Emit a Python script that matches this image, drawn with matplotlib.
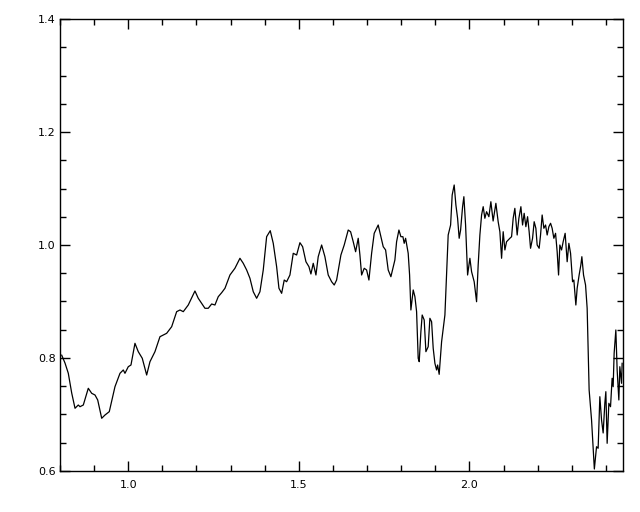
import matplotlib
matplotlib.use("Agg")
import matplotlib.pyplot as plt
from matplotlib.ticker import MultipleLocator, FormatStrFormatter

wavelength = [
    0.805, 0.8147, 0.8243, 0.8343, 0.8440, 0.8536, 0.8586, 0.8683, 0.8829, 0.8929,
    0.9026, 0.9105, 0.9222, 0.9319, 0.9444, 0.9611, 0.9758, 0.9855, 0.9904, 1.0001,
    1.0080, 1.0197, 1.0294, 1.0411, 1.0540, 1.0637, 1.0783, 1.0930, 1.1126, 1.1273,
    1.1419, 1.1516, 1.1613, 1.1759, 1.1955, 1.2052, 1.2248, 1.2345, 1.2445, 1.2541,
    1.2638, 1.2738, 1.2835, 1.2981, 1.3127, 1.3274, 1.3371, 1.3470, 1.3567, 1.3664,
    1.3763, 1.3860, 1.3957, 1.4056, 1.4162, 1.4250, 1.4349, 1.4417, 1.4496, 1.4572,
    1.4642, 1.4739, 1.4836, 1.4935, 1.5032, 1.5111, 1.5208, 1.5296, 1.5354, 1.5422,
    1.5501, 1.5568, 1.5668, 1.5764, 1.5861, 1.5961, 1.6037, 1.6107, 1.6233, 1.6330,
    1.6447, 1.6517, 1.6594, 1.6664, 1.6740, 1.6790, 1.6840, 1.6916,
    1.6986, 1.7054, 1.7133, 1.7209, 1.7326, 1.7405, 1.7473, 1.7543, 1.7619, 1.7698,
    1.7766,
    1.7815, 1.7865, 1.7933, 1.7991, 1.8050, 1.8088, 1.8129, 1.8205, 1.8246, 1.8284,
    1.8352, 1.8402, 1.8451, 1.8498, 1.8528, 1.8577, 1.8615, 1.8674, 1.8724, 1.8791,
    1.8841, 1.8891, 1.8938, 1.8988, 1.9037, 1.9067, 1.9113, 1.9184, 1.9281, 1.9377,
    1.9448, 1.9494, 1.9553, 1.9603, 1.9653, 1.9699, 1.9741, 1.9799, 1.9837, 1.9887,
    1.9946, 2.0013, 2.0063, 2.0139, 2.0209, 2.0256, 2.0306, 2.0356, 2.0403, 2.0452,
    2.0502, 2.0570, 2.0628, 2.0694,
    2.0775, 2.0842, 2.0892, 2.0942, 2.0989, 2.1039, 2.1088, 2.1135, 2.1185, 2.1235,
    2.1282, 2.1331, 2.1399, 2.1449, 2.1508, 2.1557, 2.1604, 2.1654, 2.1704, 2.1750,
    2.1791, 2.1850, 2.1897, 2.1947, 2.1985, 2.2043, 2.2084, 2.2131, 2.2181, 2.2231,
    2.2278, 2.2328, 2.2378, 2.2424, 2.2474, 2.2524, 2.2571, 2.2612, 2.2650, 2.2700,
    2.2747, 2.2805, 2.2864, 2.2914, 2.2964, 2.3022, 2.3060, 2.3119, 2.3157, 2.3215,
    2.3265, 2.3295, 2.3344, 2.3403, 2.3450, 2.3508, 2.3579, 2.3661,
    2.3725, 2.3772, 2.3822, 2.3872, 2.3919, 2.3969, 2.3998, 2.4036, 2.4086, 2.4135,
    2.4182, 2.4212, 2.4241, 2.4291, 2.4329, 2.4379, 2.4408, 2.4458, 2.4475,
]

flux = [
    0.805, 0.791, 0.773, 0.738, 0.711, 0.7168, 0.7138, 0.7168, 0.7464, 0.7375,
    0.7345, 0.7257, 0.6933, 0.6991, 0.705, 0.7492, 0.7729, 0.7788, 0.7729, 0.7846,
    0.7876, 0.826, 0.8112, 0.7995, 0.7699, 0.7935, 0.8112, 0.8377, 0.8437, 0.8554,
    0.882, 0.885, 0.882, 0.8938, 0.9186, 0.9057, 0.888, 0.888, 0.8956, 0.8938,
    0.9085, 0.9156, 0.9234, 0.9469, 0.9588, 0.9765, 0.9676, 0.9558, 0.9411, 0.9173,
    0.9057, 0.9173, 0.9558, 1.0147, 1.0253, 1.003, 0.9616, 0.9234, 0.9145, 0.938,
    0.935, 0.9469, 0.9853, 0.9823, 1.0041, 0.997, 0.9704, 0.9616, 0.9487, 0.9676,
    0.9469, 0.9793, 1.0, 0.9793, 0.9469, 0.935, 0.9292, 0.938, 0.9823, 1.0,
    1.0265, 1.0235, 1.0058, 0.9881, 1.0119, 0.9823, 0.9469, 0.9588,
    0.9558, 0.938, 0.9853, 1.0207, 1.0354, 1.0147, 0.997, 0.9912, 0.9558, 0.9439,
    0.9616,
    0.9735, 1.0058, 1.0265, 1.0147, 1.0147, 1.003, 1.0119, 0.9853, 0.9469, 0.885,
    0.9204, 0.9085, 0.882, 0.7995, 0.7935, 0.8465, 0.8761, 0.8673, 0.8112, 0.82,
    0.8703, 0.8642, 0.8172, 0.7906, 0.7788, 0.7876, 0.7711, 0.8288, 0.8761, 1.0177,
    1.0354, 1.0885, 1.1062, 1.0708, 1.0473, 1.0119, 1.0265, 1.0678, 1.0855, 1.0354,
    0.9469, 0.9765, 0.9527, 0.935, 0.8996, 0.9646, 1.0177, 1.0531, 1.0678, 1.0473,
    1.0589, 1.0501, 1.0766, 1.0425,
    1.0738, 1.0412, 1.0235, 0.9765, 1.0235, 0.9912, 1.0058, 1.0088, 1.0119, 1.0147,
    1.0473, 1.0649, 1.0177, 1.0473, 1.0678, 1.0354, 1.0561, 1.0324, 1.0501, 1.0235,
    0.9942, 1.0119, 1.0412, 1.0296, 1.0, 0.9942, 1.0177, 1.0531, 1.0296, 1.0354,
    1.0177, 1.0324, 1.0384, 1.0296, 1.0119, 1.0207, 0.9881, 0.9469, 1.0, 0.9912,
    1.0058, 1.0207, 0.9704, 1.003, 0.9853, 0.935, 0.938, 0.8938, 0.9234, 0.9469,
    0.9646, 0.9793, 0.9469, 0.9292, 0.888, 0.7434, 0.6903, 0.6035,
    0.643, 0.6402, 0.7315, 0.6903, 0.6673, 0.7204, 0.7404, 0.649, 0.7198, 0.7138,
    0.7641, 0.7492, 0.8083, 0.8496, 0.7788, 0.7257, 0.7846, 0.7552, 0.7906,
]

x_range = [0.8, 2.4486]
y_range = [0.6, 1.4]
x_ticks = [1.0, 1.5, 2.0]
y_ticks = [0.6, 0.8, 1.0, 1.2, 1.4]

fig = plt.figure(figsize=(6.4, 5.12), dpi=100)
ax = fig.add_axes([60 / 640, 41 / 512, 562.5 / 640, 452 / 512])
ax.plot(wavelength, flux, color="black", linewidth=0.9)
ax.set_xlim(x_range)
ax.set_ylim(y_range)
ax.set_xticks(x_ticks)
ax.set_yticks(y_ticks)
ax.xaxis.set_minor_locator(MultipleLocator(0.1))
ax.yaxis.set_minor_locator(MultipleLocator(0.05))
ax.xaxis.set_major_formatter(FormatStrFormatter("%.1f"))
ax.yaxis.set_major_formatter(FormatStrFormatter("%.1f"))
ax.tick_params(which="both", direction="in", top=True, right=True,
               width=1.0, colors="black", labelsize=8)
ax.tick_params(which="major", length=7.5)
ax.tick_params(which="minor", length=4)
ax.tick_params(axis="x", which="major", pad=6.5)
ax.tick_params(axis="y", which="major", pad=3)
for s in ax.spines.values():
    s.set_linewidth(1.0)
fig.savefig("out.png", dpi=100)
